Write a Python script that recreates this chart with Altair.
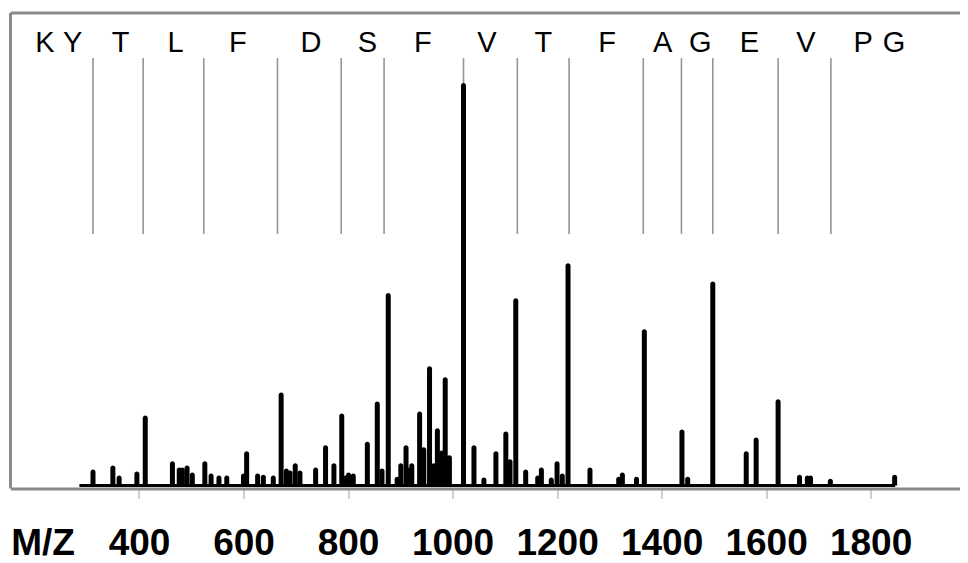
import altair as alt
import pandas as pd

# ---- data ----
peak_mz = [312, 350, 362, 396, 412, 464, 477, 483, 492, 502, 526, 538, 553, 568,
           600, 606, 627, 638, 657, 672, 682, 689, 699, 708, 738, 757, 773, 788,
           795, 801, 810, 837, 856, 865, 877, 894, 901, 911, 915, 922, 937, 945,
           956, 964, 971, 979, 986, 994, 1021, 1041, 1060, 1083, 1102, 1110, 1121,
           1140, 1163, 1170, 1189, 1200, 1210, 1221, 1263, 1318, 1325, 1352, 1367,
           1439, 1450, 1498, 1562, 1581, 1623, 1664, 1679, 1685, 1723, 1846]
peak_int = [4.0, 5.0, 2.5, 3.5, 17.4, 6.0, 4.5, 4.5, 5.0, 3.2, 6.0, 3.0, 2.5, 2.5,
            3.0, 8.5, 3.0, 2.7, 2.5, 23.1, 4.2, 3.7, 5.5, 3.7, 4.5, 10.0, 5.5, 17.9,
            2.5, 3.2, 3.0, 10.9, 20.9, 4.2, 47.8, 2.2, 5.5, 10.0, 4.5, 5.5, 18.4, 9.5,
            29.6, 5.5, 14.2, 8.7, 26.9, 7.5, 100.0, 10.0, 2.0, 8.5, 13.4, 6.5, 46.5,
            4.0, 2.5, 4.5, 2.0, 6.0, 3.0, 55.2, 4.5, 2.2, 3.2, 2.2, 38.8,
            13.9, 2.2, 50.7, 8.5, 11.9, 21.4, 2.7, 2.5, 2.5, 1.7, 2.7]

# fragment ladder positions (gray markers)
ladder_mz = [312, 408, 524, 665, 787, 869, 1021, 1124, 1223, 1365, 1438, 1498, 1623, 1724]

# residue labels and their positions
residues = ["K", "Y", "T", "L", "F", "D", "S", "F", "V", "T", "F", "A", "G", "E", "V", "P", "G"]
residue_mz = [220, 273, 365, 470, 589, 729, 837, 943, 1066, 1174, 1296, 1402, 1474, 1568, 1676, 1786, 1845]

tick_values = [400, 600, 800, 1000, 1200, 1400, 1600, 1800]
spectrum_start, spectrum_end = 286, 1847

# ---- layout ----
W, H = 949.5, 475.5
x_domain = [163.7, 1961.5]
y_domain = [-0.745, 117.39]
ladder_top, ladder_bottom = 106.2, 62.5
FONT = "Liberation Sans"
GRAY = "#8a8a8a"

peaks = pd.DataFrame({"mz": peak_mz, "intensity": peak_int})
ladder = pd.DataFrame({"mz": ladder_mz, "top": ladder_top, "bottom": ladder_bottom})
labels = pd.DataFrame({"mz": residue_mz, "res": residues})
base = pd.DataFrame({"start": [spectrum_start], "end": [spectrum_end], "zero": [0]})
dummy = pd.DataFrame({"a": [0]})

xscale = alt.Scale(domain=x_domain, nice=False, zero=False)
yscale = alt.Scale(domain=y_domain, nice=False, zero=False)

xaxis = alt.Axis(
    values=tick_values, format="d", grid=False,
    domainColor=GRAY, domainWidth=3,
    tickColor="#a0a0a0", tickWidth=1, tickSize=10,
    labelFont=FONT, labelFontSize=37, labelFontWeight="bold", labelColor="black",
    labelBaseline="alphabetic", labelPadding=55.5, labelAlign="center",
    title="M/Z", titleFont=FONT, titleFontSize=37, titleFontWeight="bold",
    titleColor="black", titleX=32, titleY=65.5, titleAlign="center",
    titleBaseline="alphabetic",
)

ladder_layer = alt.Chart(ladder).mark_rule(color="#959595", strokeWidth=1.6).encode(
    x=alt.X("mz:Q", scale=xscale, axis=xaxis),
    y=alt.Y("top:Q", scale=yscale, axis=None),
    y2="bottom:Q",
)

baseline_layer = alt.Chart(base).mark_rule(color="black", strokeWidth=3).encode(
    x=alt.X("start:Q", scale=xscale),
    x2="end:Q",
    y=alt.Y("zero:Q", scale=yscale),
)

bars = alt.Chart(peaks).mark_bar(
    size=5, color="black", cornerRadiusTopLeft=2.5, cornerRadiusTopRight=2.5
).encode(
    x=alt.X("mz:Q", scale=xscale),
    y=alt.Y("intensity:Q", scale=yscale),
    y2=alt.datum(0),
)

text_layer = alt.Chart(labels).mark_text(
    font=FONT, fontSize=29, color="black", baseline="alphabetic", align="center"
).encode(
    x=alt.X("mz:Q", scale=xscale),
    y=alt.value(39),
    text="res:N",
)

frame_left = alt.Chart(dummy).mark_rule(color=GRAY, strokeWidth=3).encode(
    x=alt.value(0), y=alt.value(0), y2=alt.value(H)
)
frame_top = alt.Chart(dummy).mark_rule(color=GRAY, strokeWidth=3).encode(
    x=alt.value(0), x2=alt.value(W), y=alt.value(0)
)

chart = alt.layer(
    ladder_layer, baseline_layer, bars, text_layer, frame_left, frame_top
).properties(
    width=W, height=H,
    autosize=alt.AutoSizeParams(type="none"),
    padding={"left": 2.5, "top": 5, "right": 0, "bottom": 74.5},
    background="white",
).configure_view(strokeWidth=0)

chart.save("out.html", embed_options={"renderer": "svg", "actions": False})
